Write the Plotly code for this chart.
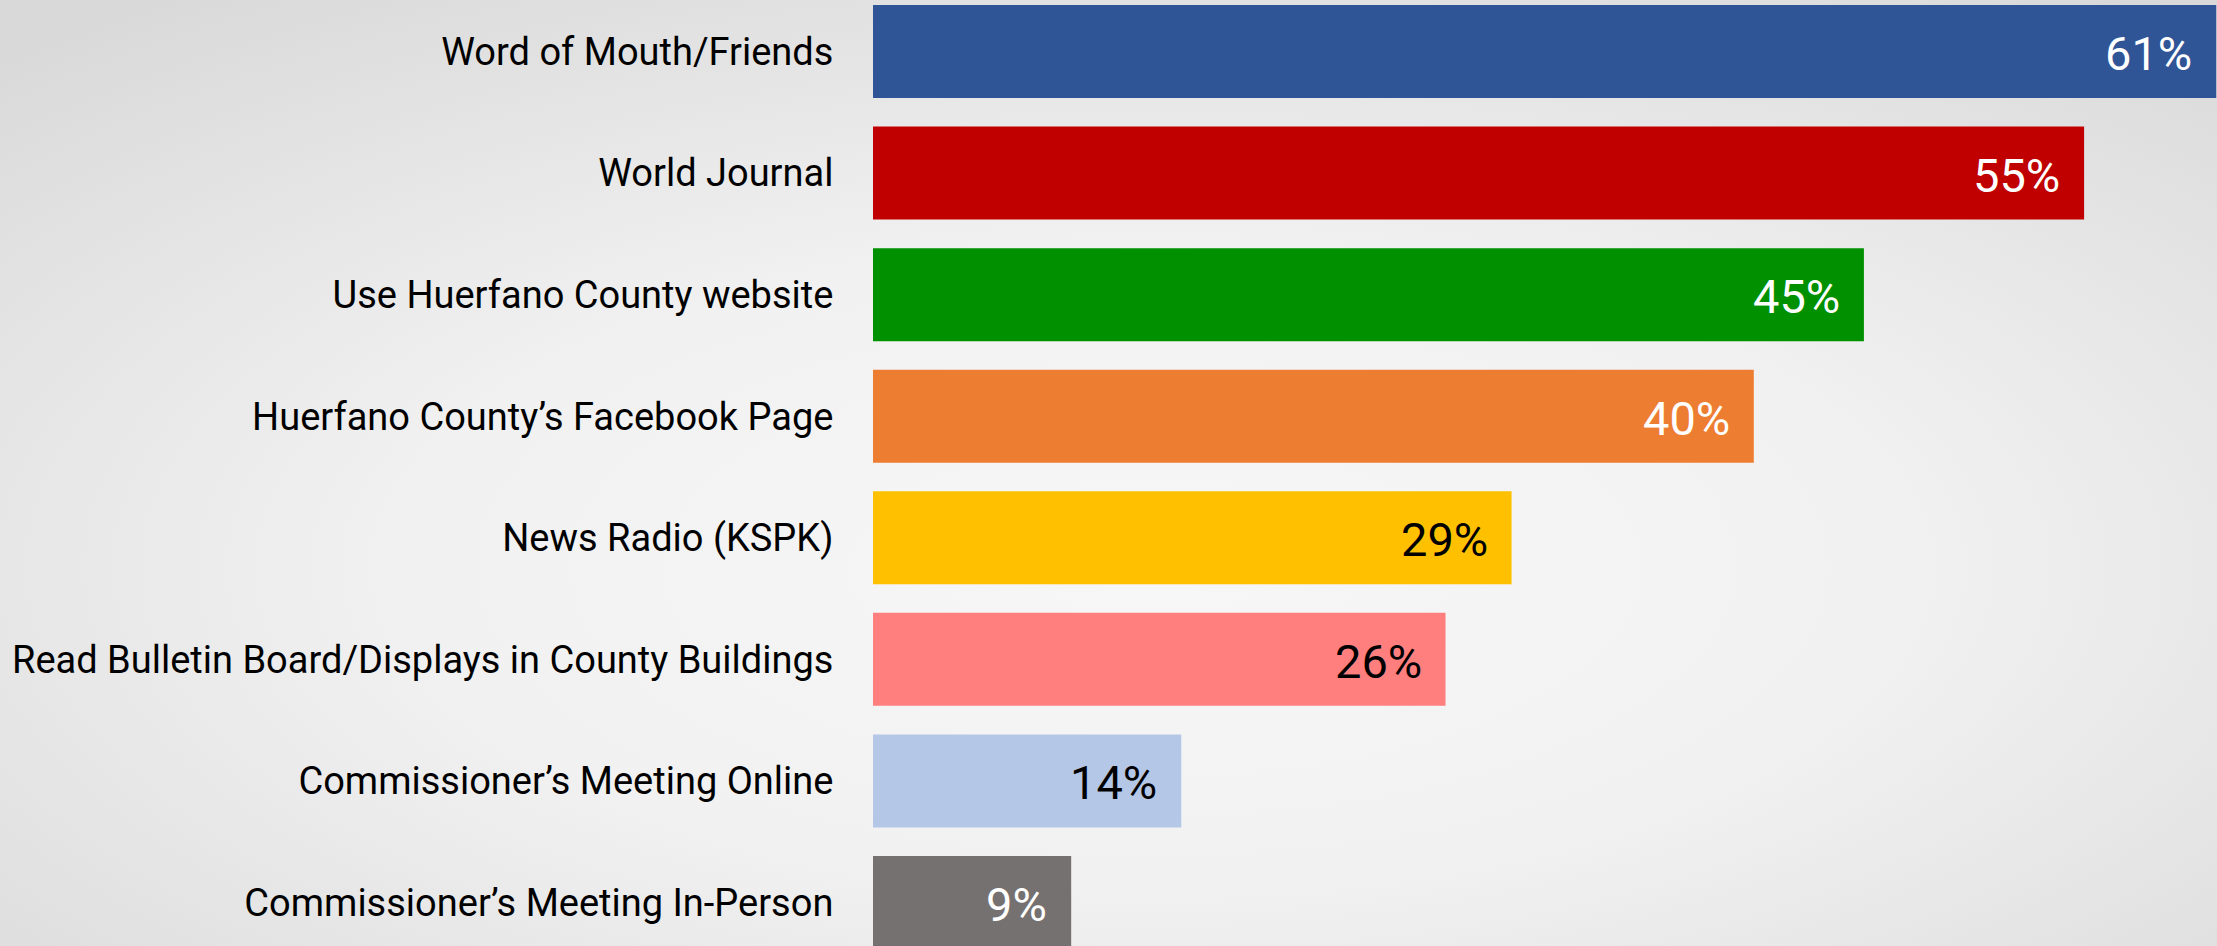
import base64
import plotly.graph_objects as go

categories = [
    "Word of Mouth/Friends",
    "World Journal",
    "Use Huerfano County website",
    "Huerfano County’s Facebook Page",
    "News Radio (KSPK)",
    "Read Bulletin Board/Displays in County Buildings",
    "Commissioner’s Meeting Online",
    "Commissioner’s Meeting In-Person",
]
values = [61, 55, 45, 40, 29, 26, 14, 9]
bar_colors = ["#2F5597", "#C00000", "#009000", "#ED7D31", "#FFC000", "#FF7F7F", "#B4C7E7", "#767171"]
text_colors = ["white", "white", "white", "white", "black", "black", "black", "white"]

W, H = 2217, 946
L = 873

svg = f'''<svg xmlns="http://www.w3.org/2000/svg" width="{W}" height="{H}" viewBox="0 0 {W} {H}" preserveAspectRatio="none">
<defs><radialGradient id="g" cx="0.52" cy="0.6" r="0.75">
<stop offset="0" stop-color="#f7f7f7"/><stop offset="0.45" stop-color="#f1f1f1"/><stop offset="1" stop-color="#d9d9d9"/>
</radialGradient></defs>
<rect width="{W}" height="{H}" fill="url(#g)"/></svg>'''
src = "data:image/svg+xml;base64," + base64.b64encode(svg.encode()).decode()

fig = go.Figure()
fig.add_trace(go.Bar(
    y=categories, x=values, orientation="h",
    marker=dict(color=bar_colors, line=dict(width=0)),
    width=0.765, hoverinfo="skip",
))
for c, v, tc in zip(categories, values, text_colors):
    fig.add_annotation(x=v, y=c, text=f"{v}%", showarrow=False, xanchor="right",
                       yanchor="middle", xshift=-22, yshift=-2,
                       font=dict(family="Roboto", size=47, color=tc))

plot_w = W - L
px_per = 22.02
fig.update_layout(
    width=W, height=H,
    margin=dict(l=L, r=0, t=0, b=0),
    paper_bgcolor="#ececec", plot_bgcolor="rgba(0,0,0,0)",
    showlegend=False,
    font=dict(family="Roboto", color="black"),
    xaxis=dict(range=[0, plot_w / px_per], visible=False, fixedrange=True),
    yaxis=dict(range=[(H - 51.5) / 121.57, -51.5 / 121.57], showgrid=False, zeroline=False,
               showline=False, ticks="outside", ticklen=31, tickcolor="rgba(0,0,0,0)",
               tickfont=dict(family="Roboto", size=38, color="black"), fixedrange=True),
    images=[dict(source=src, xref="paper", yref="paper", x=-L / plot_w, y=1,
                 sizex=W / plot_w, sizey=1, sizing="stretch", xanchor="left",
                 yanchor="top", layer="below")],
)
fig.write_html("out.html", config={"displayModeBar": False},
               post_script="document.body.style.margin='0';document.body.style.overflow='hidden';")
